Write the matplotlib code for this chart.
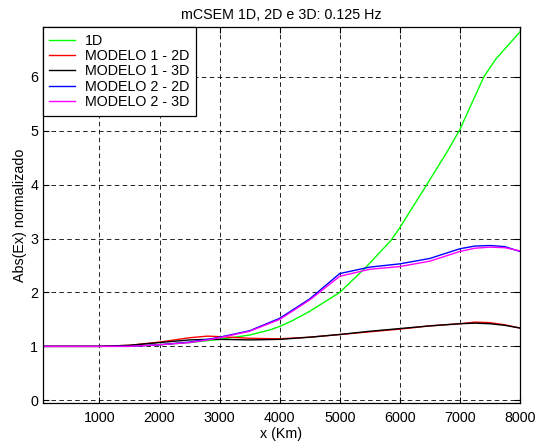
import numpy as np
import matplotlib
matplotlib.use("Agg")
import matplotlib.pyplot as plt

plt.rcParams['font.family'] = ['Liberation Sans', 'DejaVu Sans']
plt.rcParams['font.size'] = 10.3

# ---- data ----
x_1d = [60, 1000, 1500, 2000, 2500, 3000, 3250, 3500, 3850, 4000, 4200, 4500,
        5000, 5430, 5850, 6000, 6450, 6800, 7000, 7400, 7600, 8000]
abs_1d = [1.0, 1.0, 1.01, 1.03, 1.07, 1.13, 1.17, 1.21, 1.31, 1.37, 1.47, 1.65,
          2.0, 2.46, 2.96, 3.2, 4.0, 4.63, 5.02, 6.0, 6.33, 6.83]

x_mod = [60, 1000, 1500, 2000, 2500, 2800, 3000, 3500, 4000, 4500, 5000,
         5500, 6000, 6500, 7000, 7250, 7500, 7750, 8000]
mod1_2d = [1.0, 1.0, 1.02, 1.08, 1.16, 1.19, 1.18, 1.15, 1.14, 1.17, 1.22,
           1.27, 1.32, 1.38, 1.42, 1.45, 1.44, 1.40, 1.34]
mod1_3d = [1.0, 1.0, 1.02, 1.07, 1.12, 1.13, 1.13, 1.12, 1.13, 1.17, 1.22,
           1.28, 1.33, 1.38, 1.42, 1.43, 1.42, 1.39, 1.34]
mod2_2d = [1.0, 1.0, 1.0, 1.03, 1.08, 1.13, 1.17, 1.29, 1.52, 1.88, 2.35,
           2.47, 2.53, 2.63, 2.81, 2.86, 2.87, 2.85, 2.76]
mod2_3d = [1.0, 1.0, 1.0, 1.03, 1.07, 1.12, 1.16, 1.28, 1.50, 1.86, 2.30,
           2.43, 2.48, 2.58, 2.76, 2.82, 2.84, 2.83, 2.77]

x_ticks = [1000, 2000, 3000, 4000, 5000, 6000, 7000, 8000]
y_ticks = [0, 1, 2, 3, 4, 5, 6]

# ---- figure ----
fig = plt.figure(figsize=(5.41, 4.45), dpi=100)
ax = fig.add_axes([0.0795, 0.0944, 0.8815, 0.8446])

ax.plot(x_1d, abs_1d, color=(0, 1, 0), lw=1, label='1D')
ax.plot(x_mod, mod1_2d, color=(1, 0, 0), lw=1, label='MODELO 1 - 2D')
ax.plot(x_mod, mod1_3d, color='k', lw=1, label='MODELO 1 - 3D')
ax.plot(x_mod, mod2_2d, color=(0, 0, 1), lw=1, label='MODELO 2 - 2D')
ax.plot(x_mod, mod2_3d, color=(1, 0, 1), lw=1, label='MODELO 2 - 3D')

ax.set_xlim(60, 8000)
ax.set_ylim(-0.05, 6.92)
ax.set_xticks(x_ticks)
ax.set_yticks(y_ticks)
ax.tick_params(direction='in', top=True, right=True, length=4, width=0.8)
ax.tick_params(axis='x', pad=6)
ax.grid(True, color='k', linestyle=(0, (5.5, 4)), linewidth=0.6)
for s in ax.spines.values():
    s.set_linewidth(0.9)

ax.set_title('mCSEM 1D, 2D e 3D: 0.125 Hz', fontsize=10.3, pad=6)
ax.set_xlabel('x (Km)', labelpad=1)
ax.set_ylabel('Abs(Ex) normalizado', labelpad=2)

leg = ax.legend(loc='upper left', borderaxespad=0, fancybox=False,
                edgecolor='k', framealpha=1, handlelength=1.8,
                handletextpad=0.7, labelspacing=0.1, borderpad=0.45)
leg.get_frame().set_linewidth(0.9)

fig.savefig('out.png', dpi=100)
